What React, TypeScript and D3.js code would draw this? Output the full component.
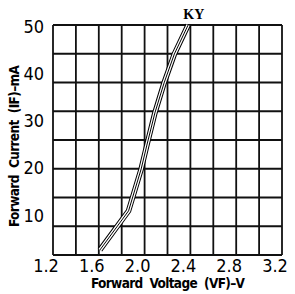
import React from 'react';
import * as d3 from 'd3';

// forward voltage (V) vs forward current (mA)
const voltage = [1.61, 1.86, 1.97, 2.02, 2.09, 2.17, 2.26, 2.38];
const current = [1.1, 9.6, 18.7, 23.9, 30.9, 37.4, 43.7, 50];

const xTicks = ['1.2', '1.6', '2.0', '2.4', '2.8', '3.2'];
const yTicks = ['10', '20', '30', '40', '50'];
const xGridCount = 10;
const yGridCount = 8;
const seriesName = 'KY';

export default function App() {
  const width = 295;
  const height = 294;
  const margin = { top: 25, right: 13, bottom: 39, left: 53 };

  const x = d3.scaleLinear().domain([1.2, 3.2]).range([margin.left, width - margin.right]);
  const y = d3.scaleLinear().domain([0, 50]).range([height - margin.bottom, margin.top]);
  // the tick labels on the left sit a bit off the grid in the original
  const yLabel = d3.scaleLinear().domain([10, 50]).range([215, 26]);

  const xGrid = d3.range(xGridCount + 1).map(i => 1.2 + (i * 2) / xGridCount);
  const yGrid = d3.range(yGridCount + 1).map(i => (i * 50) / yGridCount);

  const pts = voltage.map((v, i) => [v, current[i]] as [number, number]);
  const line = d3.line<[number, number]>()
    .x(d => x(d[0]))
    .y(d => y(d[1]));
  const path = line(pts) || '';

  const tickFont = '"DejaVu Sans Condensed", "DejaVu Sans", sans-serif';

  return (
    <svg width={width} height={height} style={{ position: 'absolute', left: 0, top: 0, background: '#fff' }}>
      <g stroke="#111" strokeWidth={1.8}>
        {xGrid.map((v, i) => (
          <line key={'x' + i} x1={x(v)} x2={x(v)} y1={y(0)} y2={y(50)} />
        ))}
        {yGrid.map((v, i) => (
          <line key={'y' + i} x1={x(1.2)} x2={x(3.2)} y1={y(v)} y2={y(v)} />
        ))}
      </g>

      {/* double-line curve */}
      <path d={path} fill="none" stroke="#000" strokeWidth={5.5} strokeLinejoin="miter" />
      <path d={path} fill="none" stroke="#fff" strokeWidth={3.5} />
      <path d={path} fill="none" stroke="#000" strokeWidth={1} />

      <text x={x(2.43)} y={19} textAnchor="middle" fontFamily='"Liberation Serif", serif'
        fontWeight="bold" fontSize={14}>{seriesName}</text>

      <g fontFamily={tickFont} fontSize={18} fill="#000">
        {xTicks.map(t => (
          <text key={t} x={x(+t) - 7} y={272} textAnchor="middle">{t}</text>
        ))}
        {yTicks.map(t => (
          <text key={t} x={44} y={yLabel(+t) + 6.5} textAnchor="end">{t}</text>
        ))}
      </g>

      <text x={168} y={288} textAnchor="middle" fontFamily={tickFont} fontWeight="bold"
        fontSize={13.5} textLength={154} lengthAdjust="spacing" style={{ whiteSpace: 'pre' }}>
        {'Forward  Voltage  (VF)–V'}
      </text>
      <text transform="translate(18.5,146) rotate(-90)" textAnchor="middle" fontFamily={tickFont}
        fontWeight="bold" fontSize={13.5} textLength={162} lengthAdjust="spacing" style={{ whiteSpace: 'pre' }}>
        {'Forward  Current  (IF)–mA'}
      </text>
    </svg>
  );
}
